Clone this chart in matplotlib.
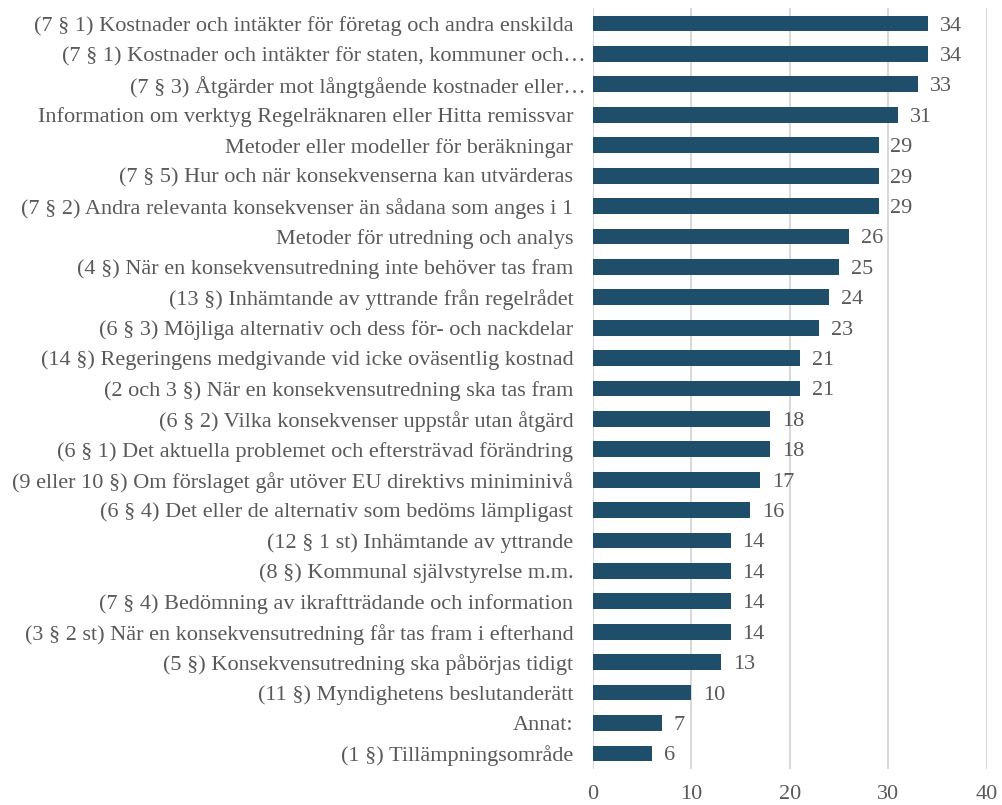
import matplotlib
matplotlib.use("Agg")
import matplotlib.pyplot as plt
import matplotlib.transforms as mtransforms

categories = [
    "(7 § 1) Kostnader och intäkter för företag och andra enskilda",
    "(7 § 1) Kostnader och intäkter för staten, kommuner och…",
    "(7 § 3) Åtgärder mot långtgående kostnader eller…",
    "Information om verktyg Regelräknaren eller Hitta remissvar",
    "Metoder eller modeller för beräkningar",
    "(7 § 5) Hur och när konsekvenserna kan utvärderas",
    "(7 § 2) Andra relevanta konsekvenser än sådana som anges i 1",
    "Metoder för utredning och analys",
    "(4 §) När en konsekvensutredning inte behöver tas fram",
    "(13 §) Inhämtande av yttrande från regelrådet",
    "(6 § 3) Möjliga alternativ och dess för- och nackdelar",
    "(14 §) Regeringens medgivande vid icke oväsentlig kostnad",
    "(2 och 3 §) När en konsekvensutredning ska tas fram",
    "(6 § 2) Vilka konsekvenser uppstår utan åtgärd",
    "(6 § 1) Det aktuella problemet och eftersträvad förändring",
    "(9 eller 10 §) Om förslaget går utöver EU direktivs miniminivå",
    "(6 § 4) Det eller de alternativ som bedöms lämpligast",
    "(12 § 1 st) Inhämtande av yttrande",
    "(8 §) Kommunal självstyrelse m.m.",
    "(7 § 4) Bedömning av ikraftträdande och information",
    "(3 § 2 st) När en konsekvensutredning får tas fram i efterhand",
    "(5 §) Konsekvensutredning ska påbörjas tidigt",
    "(11 §) Myndighetens beslutanderätt",
    "Annat:",
    "(1 §) Tillämpningsområde",
]
values = [34, 34, 33, 31, 29, 29, 29, 26, 25, 24, 23, 21, 21, 18, 18, 17, 16,
          14, 14, 14, 14, 13, 10, 7, 6]
x_ticks = [0, 10, 20, 30, 40]

plt.rcParams['font.family'] = ['Liberation Serif', 'DejaVu Serif']
text_color = "#595959"
bar_color = "#1f4e6b"
fs = 16

fig = plt.figure(figsize=(10.03, 8.05), dpi=100)
ax = fig.add_axes([0.591, 0.0452, 0.393, 0.9444])

y = list(range(len(categories)))
ax.barh(y, values, height=0.52, color=bar_color, zorder=3)
for yi, v in zip(y, values):
    ax.text(v + 1.2, yi + 0.08, str(v), va='center', ha='left', fontsize=fs,
            color=text_color)

ax.set_ylim(len(categories) - 0.5, -0.5)
ax.set_xlim(0, 40)
ax.set_xticks(x_ticks)
ax.set_xticklabels([str(t) for t in x_ticks])
ax.set_yticks(y)
ax.set_yticklabels(categories)
ax.tick_params(axis='both', length=0, labelsize=fs, labelcolor=text_color)
ax.tick_params(axis='y', pad=14)
ax.tick_params(axis='x', pad=12)
ax.grid(axis='x', color="#d9d9d9", linewidth=1.5, zorder=0)
for s in ax.spines.values():
    s.set_visible(False)

# truncated labels run closer to the axis
shift = mtransforms.ScaledTranslation(12 / 100, 0, fig.dpi_scale_trans)
for lab in ax.get_yticklabels():
    if lab.get_text().endswith("…"):
        lab.set_transform(lab.get_transform() + shift)

fig.savefig("out.png", dpi=100)
